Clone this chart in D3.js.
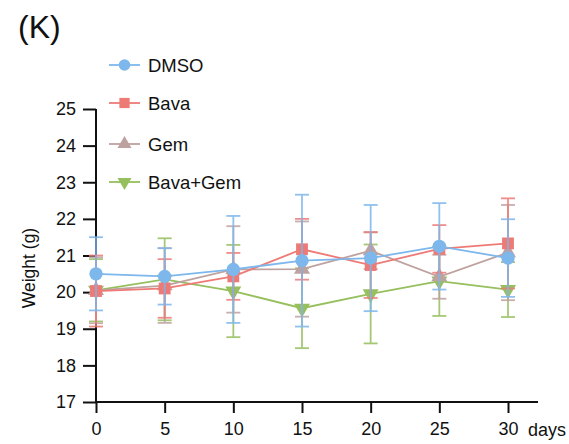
<!DOCTYPE html>
<html><head><meta charset="utf-8">
<script src="https://cdn.jsdelivr.net/npm/d3@7"></script>
<style>body{margin:0;background:#fff}svg{display:block;font-family:"Liberation Sans",Arial,sans-serif}</style>
</head><body><svg id="c" width="569" height="444"></svg>
<script>
const days = [0, 5, 10, 15, 20, 25, 30];
const seriesNames = ["DMSO", "Bava", "Gem", "Bava+Gem"];
const dmsoMean = [20.5, 20.43, 20.62, 20.86, 20.93, 21.25, 20.93];
const dmsoErr  = [1.0, 0.77, 1.46, 1.8, 1.45, 1.18, 1.06];
const bavaMean = [20.03, 20.1, 20.43, 21.17, 20.74, 21.18, 21.33];
const bavaErr  = [0.97, 0.8, 0.64, 0.83, 0.9, 0.65, 1.23];
const gemMean  = [20.05, 20.18, 20.62, 20.63, 21.13, 20.42, 21.08];
const gemErr   = [0.9, 1.02, 1.18, 1.3, 0.5, 0.6, 1.3];
const comboMean = [20.05, 20.35, 20.03, 19.56, 19.95, 20.3, 20.07];
const comboErr  = [0.85, 1.12, 1.26, 1.09, 1.35, 0.95, 0.75];
const yTicks = [17, 18, 19, 20, 21, 22, 23, 24, 25];

const colors = {"DMSO": "#7db7ec", "Bava": "#ee7a76", "Gem": "#bea29f", "Bava+Gem": "#96bf5e"};
const symbols = {"DMSO": d3.symbolCircle, "Bava": d3.symbolSquare, "Gem": d3.symbolTriangle, "Bava+Gem": d3.symbolTriangle};
const series = [
  {name: "DMSO", mean: dmsoMean, err: dmsoErr},
  {name: "Bava", mean: bavaMean, err: bavaErr},
  {name: "Gem", mean: gemMean, err: gemErr},
  {name: "Bava+Gem", mean: comboMean, err: comboErr}
];

const svg = d3.select("#c");
const x = d3.scaleLinear().domain([0, 30]).range([96, 508]);
const y = d3.scaleLinear().domain([17, 25]).range([402, 109]);
const FONT = "Liberation Sans, Arial, sans-serif";

// panel label
svg.append("text").attr("x", 18).attr("y", 38).attr("font-size", 32).attr("fill", "#111").text("(K)");

// axes
const yAxis = svg.append("g").attr("transform", "translate(96,0)")
  .call(d3.axisLeft(y).tickValues(yTicks).tickSize(13).tickPadding(7).tickFormat(d3.format("d")));
yAxis.select(".domain").attr("d", `M0,${y(25)}V${y(17)}`);
const xAxis = svg.append("g").attr("transform", "translate(0,402)")
  .call(d3.axisBottom(x).tickValues(days).tickSize(11).tickPadding(9).tickFormat(d3.format("d")));
xAxis.select(".domain").attr("d", `M${x(0)},0H538`);
[yAxis, xAxis].forEach(g => {
  g.selectAll(".domain, line").attr("stroke", "#111").attr("stroke-width", 2);
  g.selectAll("text").attr("font-size", 18).attr("fill", "#111").attr("font-family", FONT);
});
svg.append("text").attr("x", 528).attr("y", 436).attr("font-size", 18).attr("fill", "#111").text("days");
svg.append("text").attr("transform", `translate(35,268) rotate(-90)`).attr("text-anchor", "middle")
  .attr("font-size", 17.5).attr("fill", "#111").text("Weight (g)");

function symPath(name, size) {
  return d3.symbol().type(symbols[name]).size(size)();
}
const sizes = {"DMSO": 140, "Bava": 140, "Gem": 110, "Bava+Gem": 110};

// draw order: back to front
const order = ["Bava+Gem", "Gem", "Bava", "DMSO"];
order.forEach(n => {
  const s = series.find(d => d.name === n);
  const c = colors[n];
  const g = svg.append("g");
  const pts = days.map((d, i) => ({d, m: s.mean[i], e: s.err[i]}));
  const eb = g.append("g").attr("stroke", c).attr("stroke-width", 1.8).attr("opacity", 0.85);
  pts.forEach(p => {
    eb.append("line").attr("x1", x(p.d)).attr("x2", x(p.d)).attr("y1", y(p.m - p.e)).attr("y2", y(p.m + p.e));
    [p.m - p.e, p.m + p.e].forEach(v => eb.append("line").attr("x1", x(p.d) - 7).attr("x2", x(p.d) + 7).attr("y1", y(v)).attr("y2", y(v)));
  });
  g.append("path").datum(pts).attr("fill", "none").attr("stroke", c).attr("stroke-width", 1.8)
    .attr("d", d3.line().x(p => x(p.d)).y(p => y(p.m)));
  g.selectAll("path.m").data(pts).join("path").attr("class", "m")
    .attr("d", symPath(n, sizes[n]))
    .attr("transform", p => `translate(${x(p.d)},${y(p.m)})` + (n === "Bava+Gem" ? " rotate(180)" : ""))
    .attr("fill", c);
});

// legend
const legY = [65, 103, 144, 182];
seriesNames.forEach((n, i) => {
  const g = svg.append("g").attr("transform", `translate(0,${legY[i]})`);
  g.append("line").attr("x1", 109).attr("x2", 140).attr("y1", 0).attr("y2", 0).attr("stroke", colors[n]).attr("stroke-width", 1.8);
  g.append("path").attr("d", symPath(n, n === "DMSO" || n === "Bava" ? 105 : 85))
    .attr("transform", `translate(124.5,0)` + (n === "Bava+Gem" ? " rotate(180)" : "")).attr("fill", colors[n]);
  g.append("text").attr("x", 148).attr("y", 6.5).attr("font-size", 18.5).attr("fill", "#111").text(n);
});
</script></body></html>
